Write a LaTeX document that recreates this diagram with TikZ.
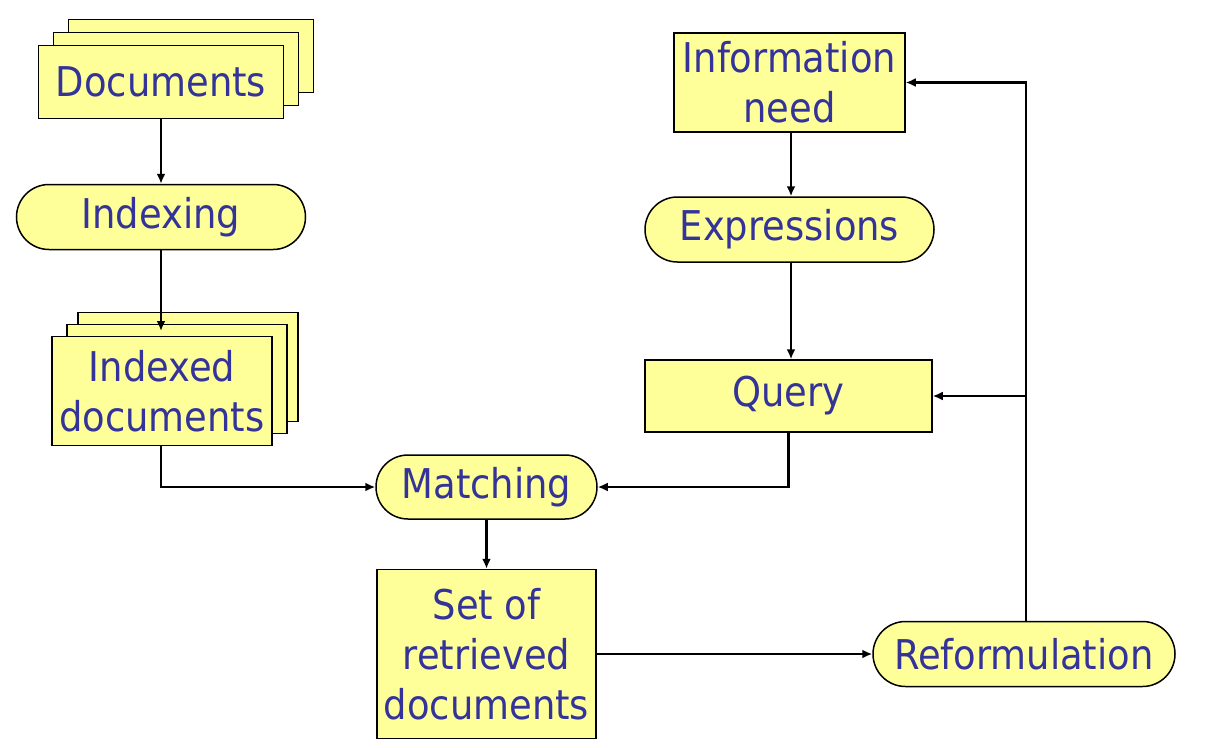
\documentclass[tikz,border=0pt]{standalone}
\usepackage{fontspec}
\setmainfont{DejaVu Sans Condensed}
\usetikzlibrary{arrows.meta,shapes.misc}
\definecolor{boxfill}{HTML}{FFFF99}
\definecolor{txt}{HTML}{333399}
\tikzset{
  base/.style={draw=black, line width=1.5pt, fill=boxfill, text=txt, inner sep=0pt,
    font=\fontsize{41}{50}\selectfont, align=center},
  rectbox/.style={base, rectangle},
  roundbox/.style={base, rounded rectangle},
  conn/.style={line width=2.6pt, -{Latex[length=10pt,width=9pt]}},
}
\begin{document}
\begin{tikzpicture}[x=1pt,y=-1pt]
\useasboundingbox (0,0) rectangle (1210,747);
% Documents stack
\node[rectbox, minimum width=245pt, minimum height=73pt] (docback) at (191,56) {};
\node[rectbox, minimum width=245pt, minimum height=73pt] (docmid) at (176,69) {};
\node[rectbox, minimum width=245pt, minimum height=73pt] (docs) at (161,82) {Documents};
% Indexing
\node[roundbox, minimum width=289pt, minimum height=65pt] (indexing) at (161,217) {Indexing};
% Indexed documents stack
\node[rectbox, minimum width=220pt, minimum height=109pt] (idxback) at (188,367) {};
\node[rectbox, minimum width=220pt, minimum height=109pt] (idxmid) at (177,379) {};
\node[rectbox, minimum width=220pt, minimum height=109pt] (idx) at (162,391) {Indexed\\documents};
% Right column
\node[rectbox, minimum width=231pt, minimum height=99pt] (info) at (789.5,82.5) {Information\\need};
\node[roundbox, minimum width=289pt, minimum height=65pt] (expr) at (789.5,229.5) {Expressions};
\node[rectbox, minimum width=287pt, minimum height=72pt] (query) at (788.5,396) {Query};
\node[roundbox, minimum width=221pt, minimum height=64pt] (match) at (486.5,487) {Matching};
\node[rectbox, minimum width=219pt, minimum height=169pt] (set) at (486.5,654) {Set of\\retrieved\\documents};
\node[roundbox, minimum width=302pt, minimum height=65pt] (reform) at (1024,654) {Reformulation};
% Connectors
\coordinate (idxtop) at (161,331);
\draw[conn] (docs.south -| 161,0) -- (indexing.north -| 161,0);
\draw[conn] (indexing.south -| 161,0) -- (idxtop);
\draw[conn] (idx.south -| 161,0) |- (match.west);
\draw[conn] (query.south) |- (match.east);
\draw[conn] (info.south -| 791,0) -- (expr.north -| 791,0);
\draw[conn] (expr.south -| 791,0) -- (query.north -| 791,0);
\draw[conn] (match.south) -- (set.north);
\draw[conn] (set.east) -- (reform.west);
\coordinate (branch) at (1026,396);
\draw[conn] (reform.north -| branch) |- (info.east);
\draw[conn] (branch) -- (query.east);
\end{tikzpicture}
\end{document}
